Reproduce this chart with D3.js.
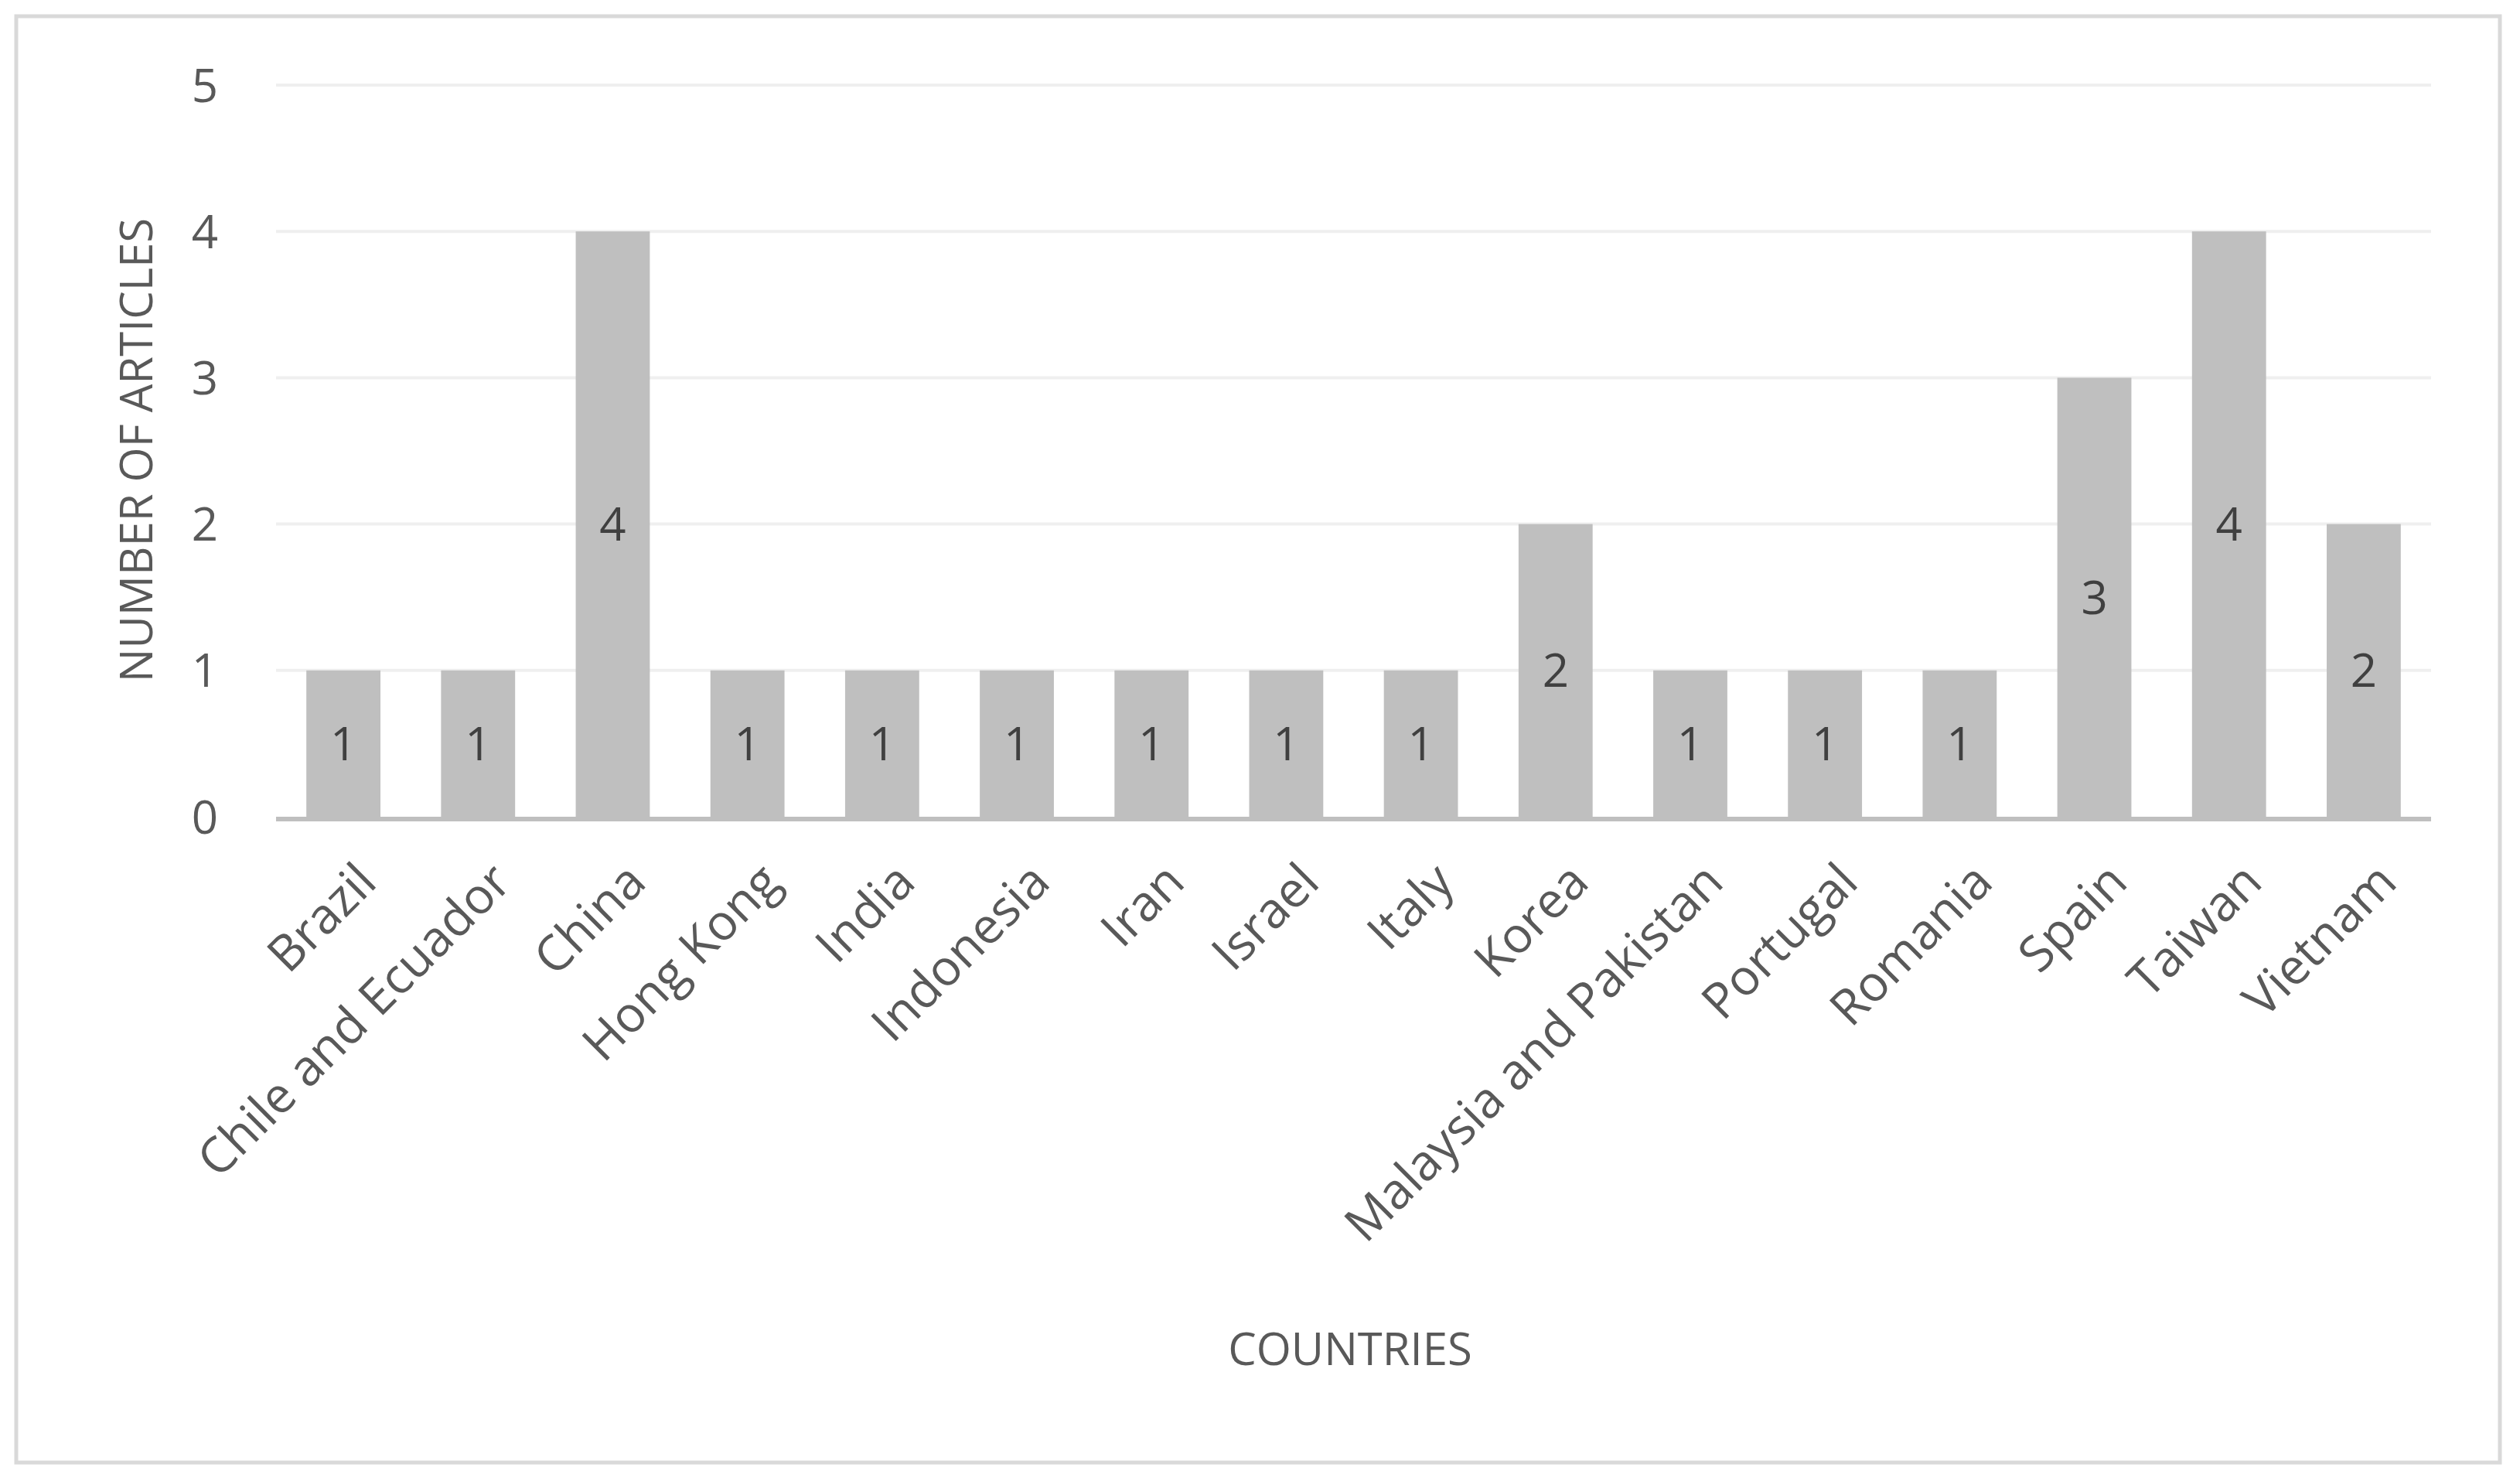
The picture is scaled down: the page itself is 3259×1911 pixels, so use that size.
<!DOCTYPE html>
<html><head><meta charset="utf-8">
<script src="https://cdn.jsdelivr.net/npm/d3@7"></script>
<style>body{margin:0;background:#fff}</style></head>
<body><svg id="c" width="3259" height="1911"></svg>
<script>
const categories = ["Brazil","Chile and Ecuador","China","Hong Kong","India","Indonesia","Iran","Israel","Italy","Korea","Malaysia and Pakistan","Portugal","Romania","Spain","Taiwan","Vietnam"];
const values = [1,1,4,1,1,1,1,1,1,2,1,1,1,3,4,2];
const yTicks = [0,1,2,3,4,5];

const svg = d3.select("#c");
const font = "'Open Sans', sans-serif";
const txt = "#595959";
svg.append("rect").attr("x",21).attr("y",21).attr("width",3212).attr("height",1870)
  .attr("fill","#fff").attr("stroke","#d9d9d9").attr("stroke-width",5);

const L=357,R=3144,T=110,B=1056;
const x = d3.scaleBand().domain(categories).range([L,R]).paddingInner(0.45).paddingOuter(0.225);
const y = d3.scaleLinear().domain([0,5]).range([B,T]);

svg.append("g").selectAll("line").data(yTicks.filter(d=>d>0)).join("line")
  .attr("x1",L).attr("x2",R).attr("y1",d=>y(d)).attr("y2",d=>y(d))
  .attr("stroke","#efefef").attr("stroke-width",4);

svg.append("g").selectAll("text").data(yTicks).join("text")
  .attr("x",L-92).attr("y",d=>y(d)).attr("dy","0.36em").attr("text-anchor","middle")
  .attr("font-family",font).attr("font-size",60).attr("fill",txt).text(d=>d);

svg.append("g").selectAll("rect").data(values).join("rect")
  .attr("x",(d,i)=>x(categories[i])).attr("width",x.bandwidth())
  .attr("y",d=>y(d)).attr("height",d=>B-y(d)).attr("fill","#bfbfbf");

svg.append("line").attr("x1",L).attr("x2",R).attr("y1",B+3).attr("y2",B+3)
  .attr("stroke","#bfbfbf").attr("stroke-width",6);

svg.append("g").selectAll("text").data(values).join("text")
  .attr("x",(d,i)=>x(categories[i])+x.bandwidth()/2).attr("y",d=>(y(d)+B)/2).attr("dy","0.36em")
  .attr("text-anchor","middle").attr("font-family",font).attr("font-size",60).attr("fill","#404040").text(d=>d);

svg.append("g").selectAll("text").data(categories).join("text")
  .attr("transform",d=>`translate(${x(d)+x.bandwidth()/2+30},${B+72}) rotate(-45)`)
  .attr("text-anchor","end").attr("dy","0.35em")
  .attr("font-family",font).attr("font-size",64).attr("fill",txt).text(d=>d);

svg.append("text").attr("x",1746).attr("y",1745).attr("dy","0.35em").attr("text-anchor","middle")
  .attr("font-family",font).attr("font-size",58).attr("fill",txt).text("COUNTRIES");
svg.append("text").attr("transform","translate(177,582) rotate(-90)").attr("dy","0.35em").attr("text-anchor","middle")
  .attr("font-family",font).attr("font-size",58).attr("fill",txt).text("NUMBER OF ARTICLES");
</script></body></html>
